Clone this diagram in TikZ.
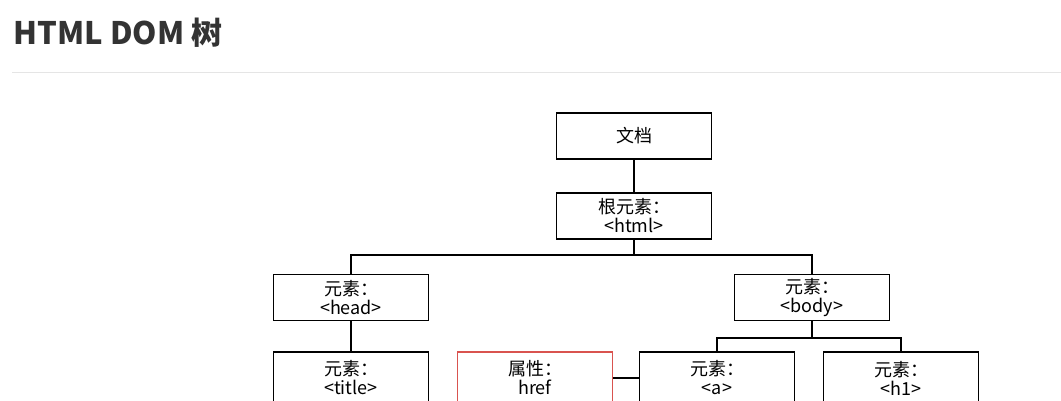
\documentclass[tikz,border=0pt]{standalone}
\usepackage{fontspec}
\setmainfont{Liberation Sans}
\newfontfamily\cjk{Noto Sans CJK SC}
\definecolor{redb}{HTML}{D9534F}
\begin{document}
\begin{tikzpicture}[x=1pt,y=-1pt,
  bx/.style={draw=black,line width=1.2pt,minimum width=155pt,minimum height=46pt,inner sep=0pt,align=center,font=\cjk\fontsize{18}{19}\selectfont,fill=white},
  ln/.style={line width=1.2pt}]
\clip (0,0) rectangle (1061,400);
\fill[white] (0,0) rectangle (1061,400);
\node[anchor=west,font=\cjk\bfseries\fontsize{31}{34}\selectfont,text=black!80] (t) at (10,33) {HTML DOM 树};
\draw[black!10,line width=1pt] (12,72) -- (1061,72);
\node[bx] (doc) at (634,136) {文档};
\node[bx] (html) at (634,216) {根元素：\\<html>};
\node[bx] (head) at (351,297.5) {元素：\\<head>};
\node[bx] (body) at (812,297.5) {元素：\\<body>};
\node[bx,minimum height=52pt] (title) at (351,378) {元素：\\<title>};
\node[bx,draw=redb,minimum height=52pt] (href) at (535,378) {属性：\\href};
\node[bx,minimum height=52pt] (a) at (717,378) {元素：\\<a>};
\node[bx,minimum height=52pt] (h1) at (901,378) {元素：\\<h1>};
\coordinate (j1) at (634,255);
\coordinate (j2) at (812,338);
\draw[ln] (doc) -- (html);
\draw[ln] (html) -- (j1);
\draw[ln] (head.north) |- (j1) -| (body.north);
\draw[ln] (head) -- (title);
\draw[ln] (body) -- (j2);
\draw[ln] (a.north) |- (j2) -| (h1.north);
\draw[ln] (href) -- (a);
\coordinate (e1) at (351,420);
\coordinate (e2) at (717,420);
\coordinate (e3) at (901,420);
\draw[ln] (title.south) -- (e1);
\draw[ln] (a.south) -- (e2);
\draw[ln] (h1.south) -- (e3);
\end{tikzpicture}
\end{document}
